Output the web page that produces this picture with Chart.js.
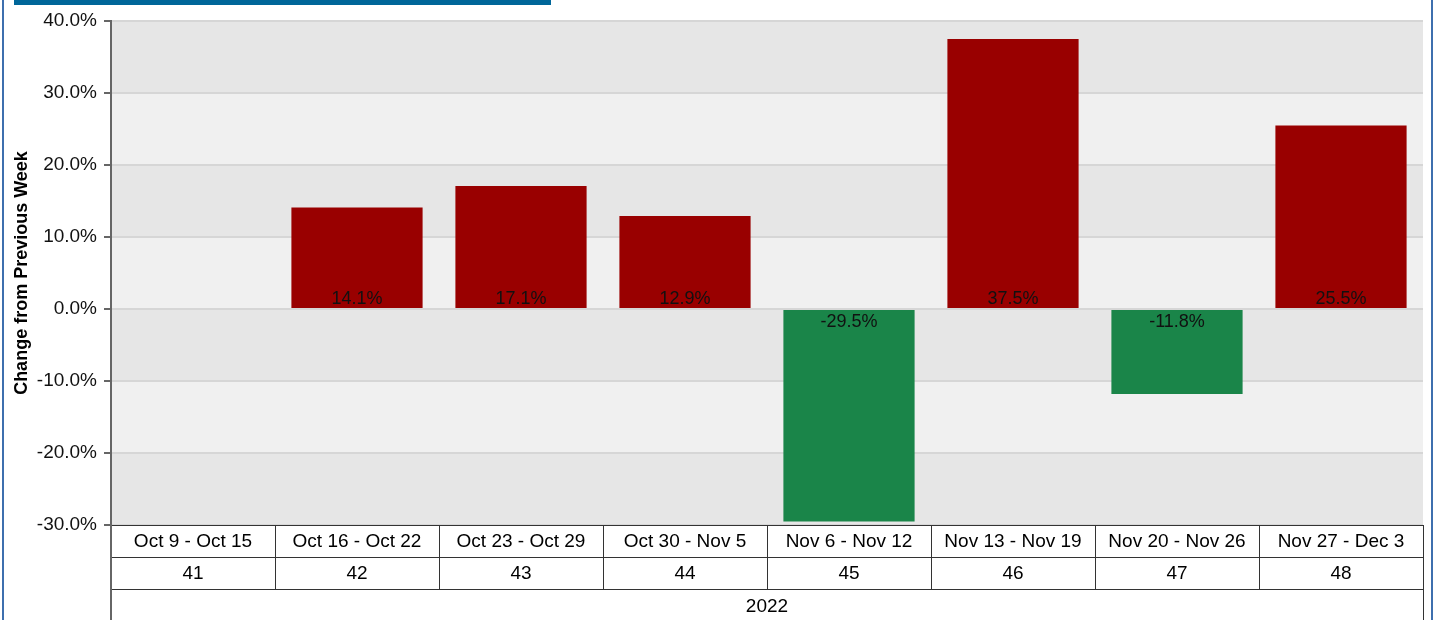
<!DOCTYPE html>
<html>
<head>
<meta charset="utf-8">
<script src="https://cdn.jsdelivr.net/npm/chart.js@4"></script>
<style>
html,body{margin:0;padding:0;background:#fff;}
#wrap{position:relative;width:1435px;height:620px;}
canvas{display:block;}
</style>
</head>
<body>
<div id="wrap"><canvas id="c" width="1435" height="620"></canvas></div>
<script>
const dateRanges = ["Oct 9 - Oct 15","Oct 16 - Oct 22","Oct 23 - Oct 29","Oct 30 - Nov 5","Nov 6 - Nov 12","Nov 13 - Nov 19","Nov 20 - Nov 26","Nov 27 - Dec 3"];
const weekNumbers = ["41","42","43","44","45","46","47","48"];
const yearLabel = "2022";
const changeValues = [null, 14.1, 17.1, 12.9, -29.5, 37.5, -11.8, 25.5];
const yTicks = [-30, -20, -10, 0, 10, 20, 30, 40];

const RED = '#990000', GREEN = '#1a8549';
const FONT = 'Arial, "Liberation Sans", sans-serif';

const framePlugin = {
  id: 'frame',
  beforeDraw(chart) {
    const ctx = chart.ctx, a = chart.chartArea, y = chart.scales.y;
    ctx.save();
    for (let i = 0; i < yTicks.length - 1; i++) {
      const lo = yTicks[i], hi = yTicks[i+1];
      const top = y.getPixelForValue(hi), bot = y.getPixelForValue(lo);
      ctx.fillStyle = (i % 2 === 0) ? '#e6e6e6' : '#f0f0f0';
      ctx.fillRect(a.left, top, a.right - a.left, bot - top);
    }
    ctx.restore();
  },
  afterDraw(chart) {
    const ctx = chart.ctx, a = chart.chartArea, x = chart.scales.x;
    ctx.save();
    ctx.fillStyle = '#3d6fae';
    ctx.fillRect(2, 0, 2, 620);
    ctx.fillRect(1431, 0, 2, 620);
    ctx.fillStyle = '#006699';
    ctx.fillRect(14, 0, 537, 5);
    const r0 = Math.round(a.bottom), r1 = r0 + 32, r2 = r1 + 32, r3 = 620;
    ctx.strokeStyle = '#333';
    ctx.lineWidth = 1;
    ctx.beginPath();
    ctx.moveTo(a.left, r0 + 0.5); ctx.lineTo(a.right, r0 + 0.5);
    ctx.moveTo(a.left, r1 + 0.5); ctx.lineTo(a.right, r1 + 0.5);
    ctx.moveTo(a.left, r2 + 0.5); ctx.lineTo(a.right, r2 + 0.5);
    const n = dateRanges.length;
    const w = (a.right - a.left) / n;
    for (let i = 1; i < n; i++) {
      const px = Math.round(a.left + i * w) + 0.5;
      ctx.moveTo(px, r0); ctx.lineTo(px, r2);
    }
    ctx.moveTo(Math.round(a.right) + 0.5, r0); ctx.lineTo(Math.round(a.right) + 0.5, r3);
    ctx.stroke();
    // axis line continuing down through the table
    ctx.strokeStyle = '#666';
    ctx.lineWidth = 2;
    ctx.beginPath();
    ctx.moveTo(a.left, r0); ctx.lineTo(a.left, r3);
    ctx.stroke();
    ctx.fillStyle = '#000';
    ctx.font = '19px ' + FONT;
    ctx.textAlign = 'center';
    ctx.textBaseline = 'middle';
    for (let i = 0; i < n; i++) {
      const cx = x.getPixelForValue(i);
      ctx.fillText(dateRanges[i], cx, (r0 + r1) / 2 + 1);
      ctx.fillText(weekNumbers[i], cx, (r1 + r2) / 2 + 1);
    }
    ctx.fillText(yearLabel, (a.left + a.right) / 2, (r2 + r3) / 2 + 2);
    ctx.restore();
  },
  afterDatasetsDraw(chart) {
    const ctx = chart.ctx, y = chart.scales.y;
    const zero = y.getPixelForValue(0);
    const meta = chart.getDatasetMeta(0);
    ctx.save();
    ctx.fillStyle = '#111';
    ctx.font = '18px ' + FONT;
    ctx.textAlign = 'center';
    ctx.textBaseline = 'middle';
    meta.data.forEach((el, i) => {
      const v = changeValues[i];
      if (v === null || v === undefined) return;
      const ty = v >= 0 ? zero - 10 : zero + 13;
      ctx.fillText(v.toFixed(1) + '%', el.x, ty);
    });
    ctx.restore();
  }
};

new Chart(document.getElementById('c'), {
  type: 'bar',
  data: {
    labels: dateRanges,
    datasets: [{
      data: changeValues,
      backgroundColor: changeValues.map(v => (v !== null && v < 0) ? GREEN : RED),
      borderWidth: 0,
      categoryPercentage: 0.8,
      barPercentage: 1.0
    }]
  },
  options: {
    responsive: false,
    animation: false,
    devicePixelRatio: 1,
    layout: { padding: { top: 21, right: 12, bottom: 95, left: 0 } },
    plugins: { legend: { display: false }, tooltip: { enabled: false } },
    scales: {
      x: { display: false, offset: true },
      y: {
        min: -30, max: 40,
        afterFit(s) { s.width = 111; },
        ticks: {
          stepSize: 10,
          color: '#111',
          font: { size: 19, family: FONT },
          padding: 7,
          callback: v => v.toFixed(1) + '%'
        },
        grid: { color: '#d6d6d6', lineWidth: 2, tickLength: 7, tickColor: '#666', drawTicks: true },
        border: { display: true, color: '#666', width: 2 },
        title: {
          display: true,
          text: 'Change from Previous Week',
          color: '#000',
          font: { size: 18, weight: 'bold', family: FONT },
          padding: { top: 11, bottom: 0 }
        }
      }
    }
  },
  plugins: [framePlugin]
});
</script>
</body>
</html>
